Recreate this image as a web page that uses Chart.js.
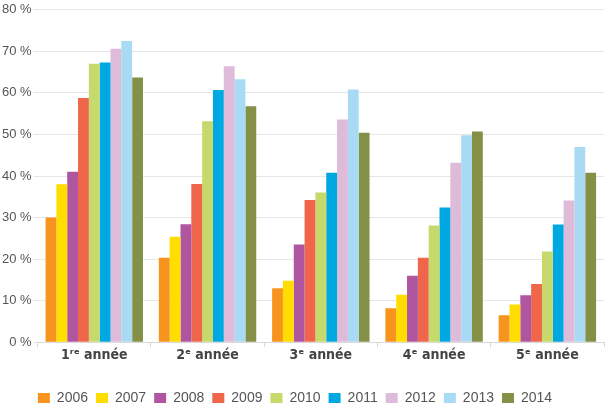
<!DOCTYPE html>
<html>
<head>
<meta charset="utf-8">
<script src="https://cdn.jsdelivr.net/npm/chart.js@4/dist/chart.umd.min.js"></script>
<style>
  html, body { margin: 0; padding: 0; background: #fff; }
  #wrap { width: 606px; height: 406px; }
</style>
</head>
<body>
<div id="wrap"><canvas id="chart" width="606" height="406"></canvas></div>
<script>
// niveaux scolaires
const levels = ['1ʳᵉ année', '2ᵉ année', '3ᵉ année', '4ᵉ année', '5ᵉ année'];
const years = ['2006', '2007', '2008', '2009', '2010', '2011', '2012', '2013', '2014'];

// valeurs en % par année
const v2006 = [30.0, 20.3, 13.0, 8.2, 6.5];
const v2007 = [38.0, 25.4, 14.8, 11.4, 9.1];
const v2008 = [41.0, 28.4, 23.5, 16.0, 11.3];
const v2009 = [58.8, 38.1, 34.2, 20.3, 14.0];
const v2010 = [67.0, 53.2, 36.0, 28.1, 21.8];
const v2011 = [67.3, 60.7, 40.8, 32.4, 28.3];
const v2012 = [70.6, 66.4, 53.6, 43.2, 34.1];
const v2013 = [72.5, 63.3, 60.8, 49.8, 47.0];
const v2014 = [63.7, 56.8, 50.4, 50.7, 40.8];

const series = [v2006, v2007, v2008, v2009, v2010, v2011, v2012, v2013, v2014];
const colors = ['#F7941D', '#FFDD00', '#B0559F', '#EF664B', '#C5DA6A',
                '#00A8E1', '#DDBBD9', '#A8DBF3', '#849046'];

const yTicks = [0, 10, 20, 30, 40, 50, 60, 70, 80];

// décale la légende un peu vers la gauche, comme l'original
const legendShift = {
  id: 'legendShift',
  afterLayout(chart) {
    chart.legend.left -= 7;
    chart.legend.right -= 7;
  }
};

const ctx = document.getElementById('chart').getContext('2d');
new Chart(ctx, {
  type: 'bar',
  data: {
    labels: levels,
    datasets: years.map((y, i) => ({
      label: y,
      data: series[i],
      backgroundColor: colors[i],
      borderWidth: 0,
      categoryPercentage: 0.86,
      barPercentage: 1.0
    }))
  },
  plugins: [legendShift],
  options: {
    responsive: false,
    animation: false,
    layout: { padding: { left: 0, right: 2, top: 2, bottom: -9 } },
    plugins: {
      legend: {
        position: 'bottom',
        labels: {
          boxWidth: 12,
          boxHeight: 10,
          padding: 8,
          color: '#555',
          font: { family: 'Liberation Sans, Arial, sans-serif', size: 14 }
        }
      },
      tooltip: { enabled: false }
    },
    scales: {
      x: {
        grid: {
          drawOnChartArea: false,
          color: '#d9d9d9',
          tickLength: 5
        },
        border: { color: '#d9d9d9' },
        afterFit: axis => { axis.height += 19; },
        ticks: {
          color: '#444',
          padding: 0,
          font: { family: 'DejaVu Sans Condensed, sans-serif', size: 14, weight: 'bold' }
        }
      },
      y: {
        min: 0,
        max: 80,
        afterBuildTicks: axis => { axis.ticks = yTicks.map(v => ({ value: v })); },
        grid: { color: '#e6e6e6', tickLength: 4 },
        border: { display: false },
        ticks: {
          color: '#555',
          padding: 2,
          font: { family: 'Liberation Sans, Arial, sans-serif', size: 13 },
          callback: v => v + ' %'
        }
      }
    }
  }
});
</script>
</body>
</html>
